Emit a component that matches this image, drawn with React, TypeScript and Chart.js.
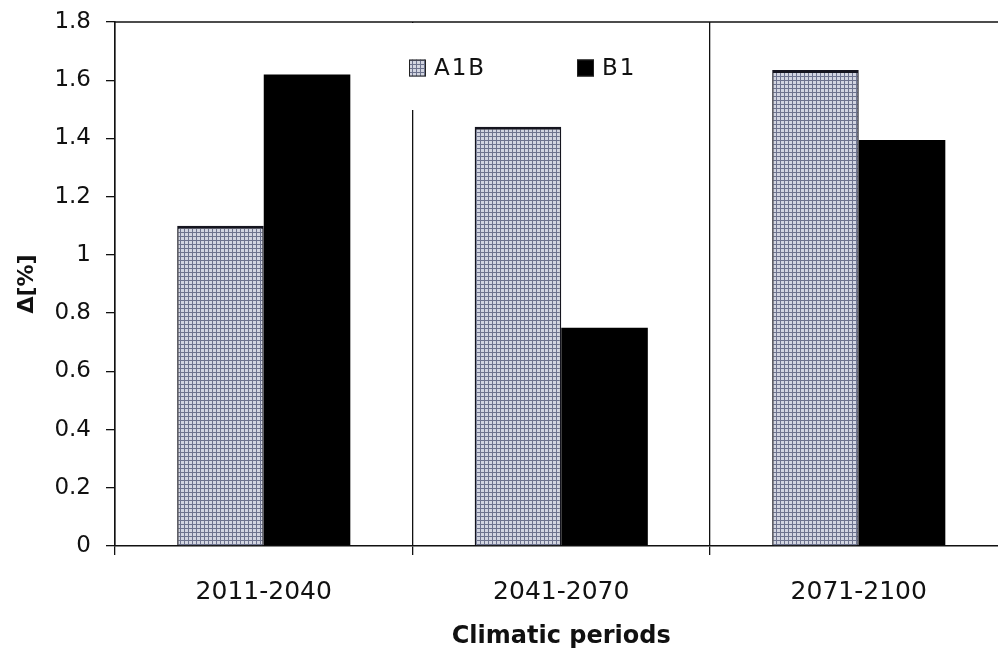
import { useEffect, useRef } from 'react';
import { Chart, registerables } from 'chart.js';

Chart.register(...registerables);

// Climatic periods and the change (in %) for each emission scenario
const periods = ['2011-2040', '2041-2070', '2071-2100'];
const a1bValues = [1.1, 1.44, 1.635];
const b1Values = [1.62, 0.75, 1.395];
const seriesNames = ['A1B', 'B1'];
const yTickValues = [0, 0.2, 0.4, 0.6, 0.8, 1, 1.2, 1.4, 1.6, 1.8];
const yAxisTitle = 'Δ[%]';
const xAxisTitle = 'Climatic periods';

const INK = '#111111';
const FONT = 'DejaVu Sans';

// Fine grid fill used for the A1B bars
function makeGridPattern(): CanvasPattern | string {
  const tile = document.createElement('canvas');
  tile.width = 4;
  tile.height = 4;
  const g = tile.getContext('2d');
  if (!g) return '#b8bccb';
  g.fillStyle = '#d2d5e1';
  g.fillRect(0, 0, 4, 4);
  g.fillStyle = '#6d738e';
  g.fillRect(0, 0, 4, 1);
  g.fillRect(0, 0, 1, 4);
  return g.createPattern(tile, 'repeat') || '#b8bccb';
}

export default function App() {
  const canvasRef = useRef<HTMLCanvasElement | null>(null);

  useEffect(() => {
    const canvas = canvasRef.current;
    if (!canvas) return;
    const gridFill = makeGridPattern();

    // Top frame line plus the boxed legend sitting inside the plot area
    const framePlugin = {
      id: 'frameAndLegend',
      afterDraw(chart: any) {
        const { ctx, chartArea } = chart;
        const { left, top, right } = chartArea;
        ctx.save();

        // legend background box (hides the upper part of the first divider)
        ctx.fillStyle = '#ffffff';
        ctx.fillRect(left + 283, top + 1, 250, 87);

        ctx.strokeStyle = INK;
        ctx.lineWidth = 1.5;
        ctx.beginPath();
        ctx.moveTo(left, top);
        ctx.lineTo(right, top);
        ctx.stroke();

        const midY = top + 46;
        const swatch = 17;
        const items = [
          { x: left + 294, fill: gridFill, text: seriesNames[0] },
          { x: left + 462, fill: '#000000', text: seriesNames[1] },
        ];
        ctx.font = `23px "${FONT}"`;
        ctx.textBaseline = 'middle';
        ctx.textAlign = 'left';
        try { (ctx as any).letterSpacing = '2px'; } catch (e) { /* optional */ }
        for (const it of items) {
          ctx.fillStyle = it.fill as any;
          ctx.fillRect(it.x, midY - swatch / 2, swatch, swatch);
          ctx.strokeStyle = '#222';
          ctx.lineWidth = 1;
          ctx.strokeRect(it.x + 0.5, midY - swatch / 2 + 0.5, swatch - 1, swatch - 1);
          ctx.fillStyle = INK;
          ctx.fillText(it.text, it.x + swatch + 8, midY + 1);
        }
        ctx.restore();
      },
    };

    const chart = new Chart(canvas, {
      type: 'bar',
      data: {
        labels: periods,
        datasets: [
          {
            label: seriesNames[0],
            data: a1bValues,
            backgroundColor: gridFill as any,
            borderColor: '#15151f',
            borderWidth: { top: 3, left: 1.5, right: 1.5, bottom: 0 },
            borderSkipped: false,
          },
          {
            label: seriesNames[1],
            data: b1Values,
            backgroundColor: '#000000',
            borderWidth: 0,
          },
        ],
      },
      options: {
        animation: false,
        responsive: false,
        devicePixelRatio: 1,
        layout: { padding: { top: 22, right: 2.5, left: 0, bottom: 0 } },
        plugins: {
          legend: { display: false },
          tooltip: { enabled: false },
        },
        datasets: {
          bar: { categoryPercentage: 0.582, barPercentage: 1 },
        },
        scales: {
          x: {
            grid: {
              offset: true,
              color: INK,
              lineWidth: 1.3,
              tickLength: 9,
              drawOnChartArea: true,
              drawTicks: true,
            },
            border: { color: INK, width: 1.5 },
            ticks: {
              font: { family: FONT, size: 25 },
              color: INK,
              padding: 22,
              maxRotation: 0,
            },
            title: {
              display: true,
              text: xAxisTitle,
              color: INK,
              font: { family: FONT, size: 24, weight: 'bold' },
              padding: { top: 0, bottom: 0 },
            },
            afterFit: (s: any) => {
              s.height = 105;
              s.paddingLeft = 0;
              s.paddingRight = 0;
            },
          },
          y: {
            min: 0,
            max: 1.8,
            afterBuildTicks: (s: any) => {
              s.ticks = yTickValues.map((v) => ({ value: v }));
            },
            ticks: {
              font: { family: FONT, size: 23 },
              color: INK,
              padding: 15,
              callback: (v: any) => String(Number(Number(v).toFixed(1))),
            },
            grid: {
              drawOnChartArea: false,
              drawTicks: true,
              tickLength: 9,
              color: INK,
              lineWidth: 1.3,
            },
            border: { color: INK, width: 1.5 },
            title: {
              display: true,
              text: yAxisTitle,
              color: INK,
              font: { family: FONT, size: 22, weight: 'bold' },
              padding: { top: 14, bottom: 0 },
            },
            afterFit: (s: any) => {
              s.width = 115;
              s.paddingTop = 0;
              s.paddingBottom = 0;
            },
          },
        },
      },
      plugins: [framePlugin],
    });

    return () => chart.destroy();
  }, []);

  return (
    <div
      style={{
        position: 'fixed',
        left: 0,
        top: 0,
        width: 998,
        height: 651,
        overflow: 'hidden',
        background: '#ffffff',
      }}
    >
      <canvas ref={canvasRef} width={1010} height={651} style={{ display: 'block' }} />
    </div>
  );
}
